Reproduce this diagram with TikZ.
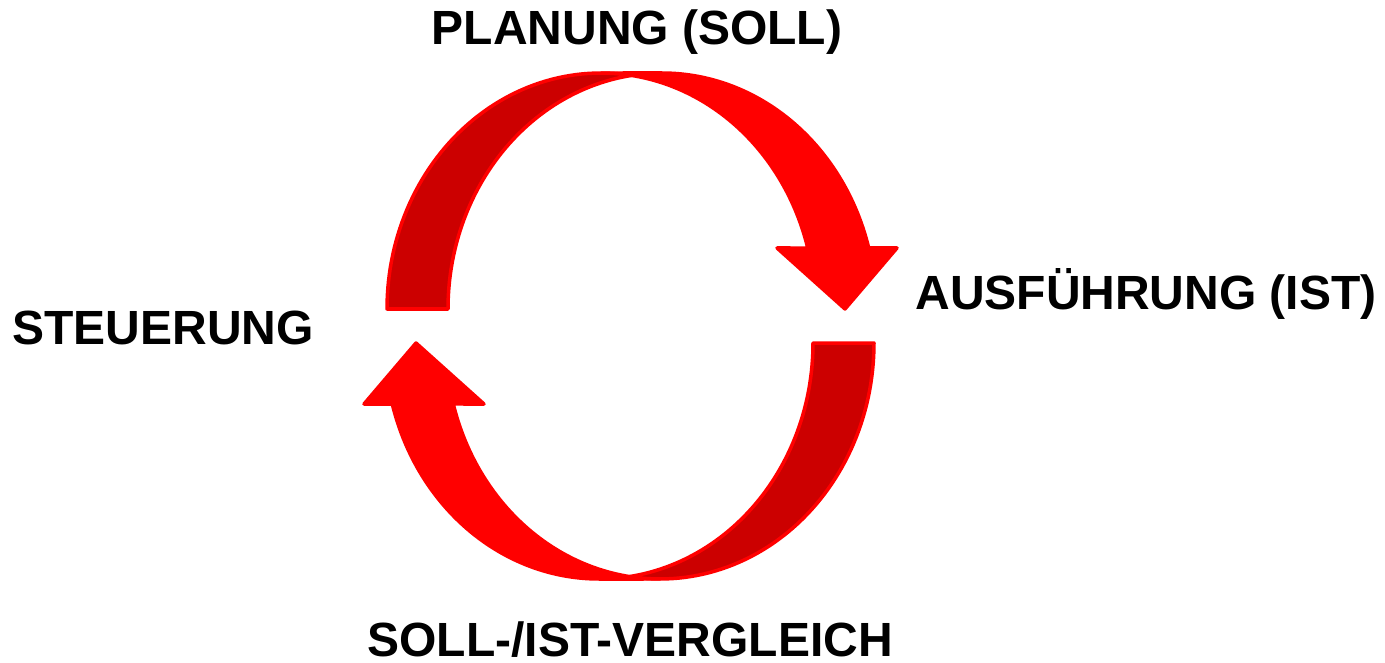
\documentclass[tikz,border=0pt]{standalone}
\usepackage{fontspec}
\setmainfont{Liberation Sans}
\definecolor{arrowred}{RGB}{255,0,0}
\definecolor{arrowdark}{RGB}{204,0,0}
\tikzset{
  frontface/.style={fill=arrowred, draw=arrowred, line width=3.5pt, line join=round},
  backface/.style={fill=arrowdark, draw=arrowred, line width=3.5pt, line join=round},
  lbl/.style={font=\fontsize{48}{57}\selectfont\bfseries, inner sep=0pt, anchor=base, text=black}
}
\newcommand\CurvedArrowPaths{%
  \draw[frontface] (845,309) -- (777,248)
    -- plot[domain=14.98:90, samples=60, variable=\t] ({601+214*cos(\t)},{309-236*sin(\t)})
    -- plot[domain=90:14.98, samples=60, variable=\t] ({662+214*cos(\t)},{309-236*sin(\t)})
    -- (897,248) -- cycle;
  \draw[backface]
    plot[domain=98.19:180, samples=60, variable=\t] ({662+214*cos(\t)},{309-236*sin(\t)})
    -- plot[domain=180:81.81, samples=60, variable=\t] ({601+214*cos(\t)},{309-236*sin(\t)})
    -- cycle;
}
\begin{document}
\begin{tikzpicture}[x=1pt,y=-1pt]
  \useasboundingbox[fill=white] (0,0) rectangle (1385,663);
  \begin{scope}
    \CurvedArrowPaths
  \end{scope}
  \begin{scope}[rotate around={180:(630.5,326)}]
    \CurvedArrowPaths
  \end{scope}
  \node[lbl] (ttop) at (637,45) {PLANUNG (SOLL)};
  \node[lbl] (tright) at (1146,309) {AUSFÜHRUNG (IST)};
  \node[lbl] (tleft) at (163,344) {STEUERUNG};
  \node[lbl] (tbottom) at (630,656) {SOLL-/IST-VERGLEICH};
\end{tikzpicture}
\end{document}
